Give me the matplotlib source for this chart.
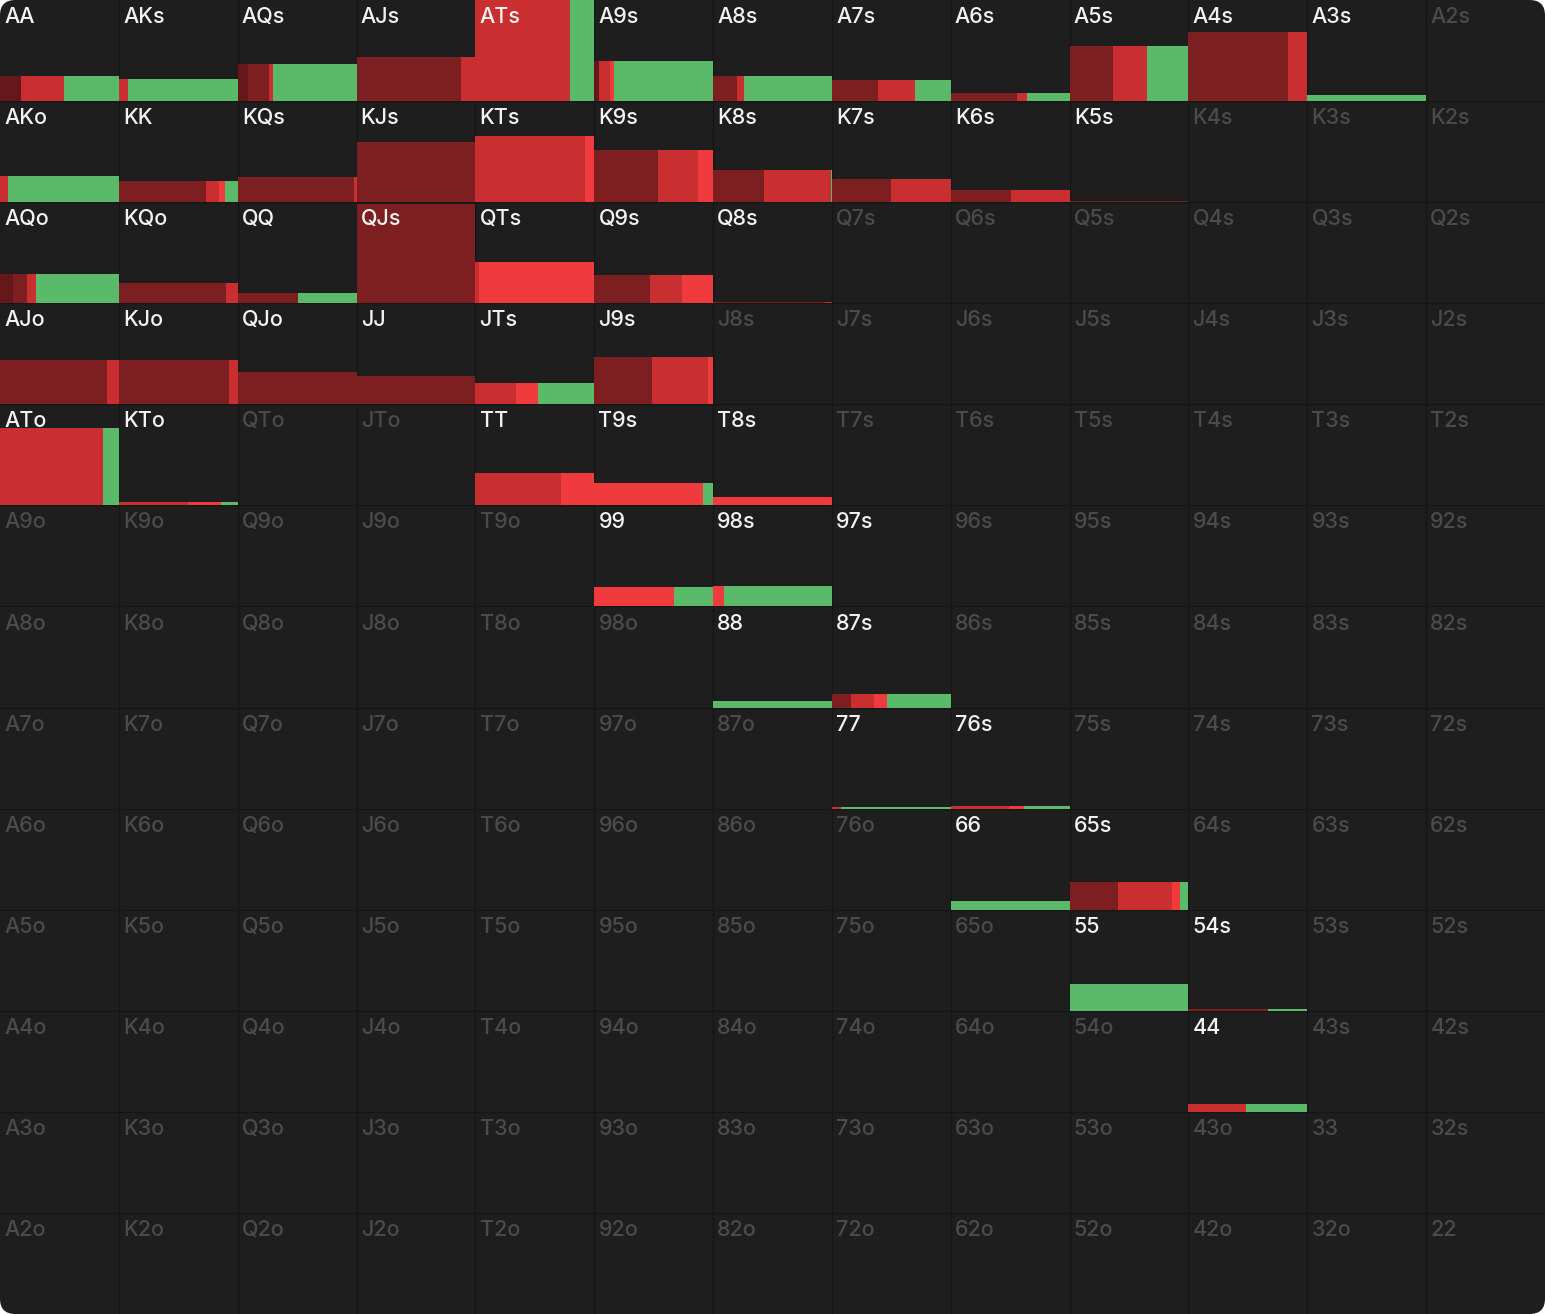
import matplotlib
matplotlib.use("Agg")
import matplotlib.pyplot as plt
from matplotlib.patches import FancyBboxPatch

# ranks of the grid, high to low
ranks = ["A", "K", "Q", "J", "T", "9", "8", "7", "6", "5", "4", "3", "2"]

# hands that are in the range (white label)
hands = ["AA", "AKs", "AQs", "AJs", "ATs", "A9s", "A8s", "A7s", "A6s", "A5s", "A4s", "A3s",
         "AKo", "KK", "KQs", "KJs", "KTs", "K9s", "K8s", "K7s", "K6s", "K5s",
         "AQo", "KQo", "QQ", "QJs", "QTs", "Q9s", "Q8s",
         "AJo", "KJo", "QJo", "JJ", "JTs", "J9s",
         "ATo", "KTo", "TT", "T9s", "T8s",
         "99", "98s", "97s", "88", "87s", "77", "76s",
         "66", "65s", "55", "54s", "44"]

# frequency of each hand (bar height, share of the cell)
freq = [0.25, 0.22, 0.37, 0.44, 1.00, 0.40, 0.25, 0.21, 0.08, 0.54, 0.68, 0.065,
        0.26, 0.21, 0.25, 0.60, 0.65, 0.52, 0.32, 0.23, 0.12, 0.012,
        0.29, 0.20, 0.10, 0.98, 0.41, 0.28, 0.015,
        0.44, 0.44, 0.32, 0.28, 0.21, 0.47,
        0.77, 0.03, 0.32, 0.22, 0.08,
        0.19, 0.20, 0.0, 0.06, 0.13, 0.015, 0.03,
        0.09, 0.27, 0.26, 0.015, 0.08]

# action mix of each hand (shares of the bar width)
act_darkest = [0.18, 0, 0.09, 0, 0, 0.04, 0, 0, 0, 0, 0, 0,
               0, 0, 0, 0, 0, 0, 0, 0, 0, 0,
               0.11, 0, 0, 0, 0, 0, 0,
               0, 0, 0, 0, 0, 0,
               0, 0, 0, 0, 0,
               0, 0, 0, 0, 0, 0, 0,
               0, 0, 0, 0, 0]
act_dark = [0, 0, 0.17, 0.88, 0, 0, 0.20, 0.39, 0.56, 0.365, 0.84, 0,
            0, 0.73, 0.975, 1.0, 0, 0.54, 0.43, 0.50, 0.51, 1.0,
            0.12, 0.90, 0.51, 1.0, 0, 0.47, 0.94,
            0.90, 0.93, 1.0, 1.0, 0, 0.49,
            0, 0, 0, 0, 0,
            0, 0, 0, 0, 0.16, 0, 0,
            0, 0.41, 0, 0.67, 0]
act_red = [0.36, 0.075, 0.04, 0.12, 0.80, 0.09, 0.06, 0.31, 0.085, 0.285, 0.16, 0,
           0.065, 0.11, 0.025, 0, 0.92, 0.335, 0.56, 0.50, 0.49, 0,
           0.07, 0.10, 0, 0, 0.03, 0.27, 0.06,
           0.10, 0.07, 0, 0, 0.34, 0.47,
           0.865, 0.58, 0.72, 0, 0,
           0, 0, 0, 0, 0.19, 0.08, 0.49,
           0, 0.45, 0, 0, 0.48]
act_bright = [0, 0, 0, 0, 0, 0.04, 0, 0, 0, 0, 0, 0,
              0, 0.055, 0, 0, 0.08, 0.125, 0, 0, 0, 0,
              0, 0, 0, 0, 0.97, 0.26, 0,
              0, 0, 0, 0, 0.19, 0.04,
              0, 0.28, 0.28, 0.915, 1.0,
              0.67, 0.09, 0, 0, 0.115, 0, 0.13,
              0, 0.07, 0, 0, 0]
act_green = [0.46, 0.925, 0.70, 0, 0.20, 0.83, 0.74, 0.30, 0.355, 0.35, 0, 1.0,
             0.935, 0.105, 0, 0, 0, 0, 0.01, 0, 0, 0,
             0.70, 0, 0.49, 0, 0, 0, 0,
             0, 0, 0, 0, 0.47, 0,
             0.135, 0.14, 0, 0.085, 0,
             0.33, 0.91, 0, 1.0, 0.535, 0.92, 0.38,
             1.0, 0.07, 1.0, 0.33, 0.52]

colors = ["#661719", "#7d1e20", "#c92f31", "#ef3b3d", "#5bb96a"]
bg = "#1e1e1e"

fig = plt.figure(figsize=(15.45, 13.14), dpi=100, facecolor="white")
ax = fig.add_axes([0, 0, 1, 1])
ax.set_xlim(0, 13)
ax.set_ylim(13, 0)
ax.axis("off")

# dark panel with rounded corners
panel = FancyBboxPatch((0, 0), 13, 13, boxstyle="round,pad=0,rounding_size=0.13",
                       mutation_aspect=1.17, facecolor=bg, edgecolor="none", zorder=0)
ax.add_patch(panel)

# cell borders
for k in range(1, 13):
    ax.axvline(k, color="#161616", lw=1.0, zorder=1)
    ax.axhline(k, color="#161616", lw=1.0, zorder=1)

# bars
for i, hand in enumerate(hands):
    r1 = ranks.index(hand[0])
    r2 = ranks.index(hand[1])
    if len(hand) == 3 and hand[2] == "o":
        row, col = r2, r1
    else:
        row, col = r1, r2
    mix = [act_darkest[i], act_dark[i], act_red[i], act_bright[i], act_green[i]]
    left = col
    for share, c in zip(mix, colors):
        if share > 0:
            ax.barh(row + 1 - freq[i] / 2, share, height=freq[i], left=left,
                    color=c, edgecolor="none", zorder=2)
            left += share

# labels
for row in range(13):
    for col in range(13):
        if row == col:
            name = ranks[row] * 2
        elif col > row:
            name = ranks[row] + ranks[col] + "s"
        else:
            name = ranks[col] + ranks[row] + "o"
        tc = "#f2f2f2" if name in hands else "#4b4b4b"
        ax.text(col + 0.035, row + 0.07, name, ha="left", va="top",
                fontsize=15.5, fontweight="medium", family=["Inter", "DejaVu Sans"],
                color=tc, zorder=3)

fig.savefig("out.png", dpi=100, facecolor="white")
